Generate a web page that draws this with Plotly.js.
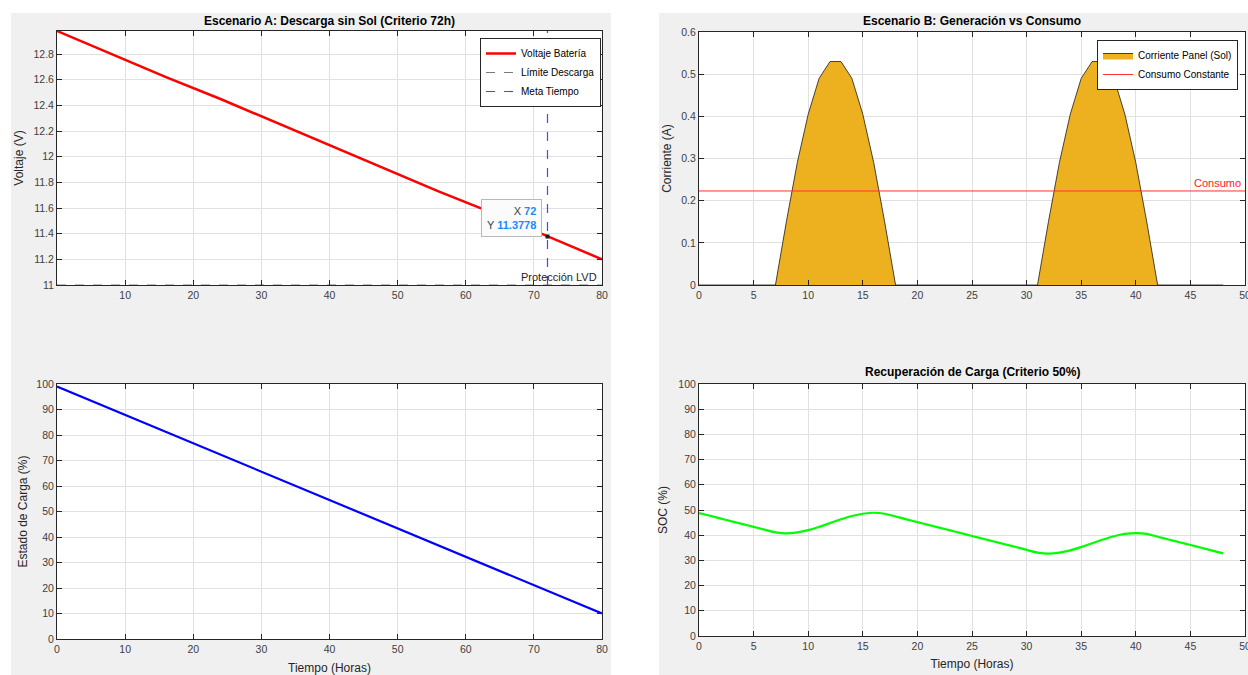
<!DOCTYPE html>
<html><head><meta charset="utf-8">
<script src="https://cdn.plot.ly/plotly-3.0.1.min.js"></script>
<style>html,body{margin:0;padding:0;background:#fff}#chart{width:1248px;height:675px}</style>
</head><body><div id="chart"></div>
<script>
// ---- Scenario A: discharge without sun ----
const dischargeTime = [0, 8, 16, 24, 32, 40, 48, 56, 64, 72, 80];
const batteryVoltage = [12.98, 12.80, 12.62, 12.45, 12.27, 12.09, 11.91, 11.73, 11.56, 11.3778, 11.20];
const dischargeSOC = [99, 90.1, 81.2, 72.3, 63.4, 54.5, 45.6, 36.7, 27.8, 18.9, 10.0];
const limitVoltage = 11.0;
const goalTime = 72;

// ---- Scenario B: generation vs consumption ----
const hours = [0,1,2,3,4,5,6,7,8,9,10,11,12,13,14,15,16,17,18,19,20,21,22,23,24,
               25,26,27,28,29,30,31,32,33,34,35,36,37,38,39,40,41,42,43,44,45,46,47,48];
const panelCurrent = [0,0,0,0,0,0,0,0,0.15,0.29,0.405,0.49,0.53,0.53,0.49,0.405,0.29,0.15,0,0,0,0,0,0,0,
                      0,0,0,0,0,0,0,0.15,0.29,0.405,0.49,0.53,0.53,0.49,0.405,0.29,0.15,0,0,0,0,0,0,0];
const consumptionTime = [0, 50];
const consumptionCurrent = [0.223, 0.223];
const recoverySOC = [48.8,47.7,46.6,45.5,44.4,43.3,42.2,41.1,40.7,41.1,42.0,43.3,44.8,46.3,47.6,48.5,48.9,48.5,47.4,46.3,45.2,44.1,43.0,41.9,40.8,
                     39.7,38.6,37.5,36.4,35.3,34.2,33.1,32.7,33.1,34.0,35.3,36.8,38.3,39.6,40.5,40.8,40.5,39.4,38.3,37.2,36.1,35.0,33.9,32.8];

const W = 1248, H = 675;
const px = v => v / W;
const py = v => 1 - v / H;
const FONT = 'Liberation Sans, Arial, Helvetica, sans-serif';
const AXC = '#262626';

function axis(domain, range, opts) {
  return Object.assign({
    domain: domain, range: range, autorange: false,
    showline: true, linecolor: AXC, linewidth: 1, mirror: 'ticks',
    ticks: 'inside', ticklen: 5, tickcolor: AXC, tickwidth: 1,
    showgrid: true, gridcolor: '#e1e1e1', gridwidth: 1, zeroline: false,
    tickfont: {family: FONT, size: 10.5, color: '#404040'},
    ticklabeloverflow: 'allow',
    fixedrange: true
  }, opts || {});
}

const tipIdx = dischargeTime.indexOf(goalTime);
const blue = '#1a8cff';

const traces = [
  {x: dischargeTime, y: batteryVoltage, xaxis: 'x', yaxis: 'y', type: 'scatter', mode: 'lines',
   name: 'Voltaje Batería', line: {color: '#ff0000', width: 2.5}, legend: 'legend'},
  {x: [0, 80], y: [limitVoltage, limitVoltage], xaxis: 'x', yaxis: 'y', type: 'scatter', mode: 'lines',
   name: 'Límite Descarga', line: {color: '#7a7a7a', width: 1, dash: 'dash'}, legend: 'legend'},
  {x: [goalTime, goalTime], y: [limitVoltage, 12.98], xaxis: 'x', yaxis: 'y', type: 'scatter', mode: 'lines',
   name: 'Meta Tiempo', line: {color: 'rgb(70,70,255)', width: 1.2, dash: 'dash'}, legend: 'legend'},
  {x: [dischargeTime[tipIdx]], y: [batteryVoltage[tipIdx]], xaxis: 'x', yaxis: 'y', type: 'scatter', mode: 'markers',
   showlegend: false, marker: {color: '#1a1a1a', size: 4, symbol: 'square'}},

  {x: hours, y: panelCurrent, xaxis: 'x2', yaxis: 'y2', type: 'scatter', mode: 'lines', fill: 'tozeroy',
   fillcolor: '#EDB120', name: 'Corriente Panel (Sol)', line: {color: '#1a1a1a', width: 0.8}, legend: 'legend2'},
  {x: consumptionTime, y: consumptionCurrent, xaxis: 'x2', yaxis: 'y2', type: 'scatter', mode: 'lines',
   name: 'Consumo Constante', line: {color: '#ff3030', width: 1}, legend: 'legend2'},

  {x: dischargeTime, y: dischargeSOC, xaxis: 'x3', yaxis: 'y3', type: 'scatter', mode: 'lines',
   showlegend: false, line: {color: '#0000ff', width: 2.2}},

  {x: hours, y: recoverySOC, xaxis: 'x4', yaxis: 'y4', type: 'scatter', mode: 'lines',
   showlegend: false, line: {color: '#00ff00', width: 2.2, shape: 'spline', smoothing: 1}}
];

const titleFont = {family: FONT, size: 12, color: '#000'};
const axTitleFont = {family: FONT, size: 12, color: '#262626'};

const layout = {
  width: W, height: H,
  margin: {l: 0, r: 0, t: 0, b: 0, pad: 0},
  paper_bgcolor: '#f0f0f0', plot_bgcolor: '#ffffff',
  hovermode: false, showlegend: true,
  font: {family: FONT, size: 10.5, color: '#262626'},
  xaxis: axis([px(57), px(602)], [0, 80], {anchor: 'y', tickvals: [10,20,30,40,50,60,70,80]}),
  yaxis: axis([py(285), py(31)], [11, 12.98], {anchor: 'x', tickvals: [11,11.2,11.4,11.6,11.8,12,12.2,12.4,12.6,12.8],
          title: {text: 'Voltaje (V)', font: axTitleFont, standoff: 7}}),
  xaxis2: axis([px(699), px(1245)], [0, 50], {anchor: 'y2', dtick: 5, tick0: 0}),
  yaxis2: axis([py(285), py(32)], [0, 0.6], {anchor: 'x2', dtick: 0.1, tick0: 0,
          title: {text: 'Corriente (A)', font: axTitleFont, standoff: 7}}),
  xaxis3: axis([px(57), px(602)], [0, 80], {anchor: 'y3', dtick: 10, tick0: 0,
          title: {text: 'Tiempo (Horas)', font: axTitleFont, standoff: 10}}),
  yaxis3: axis([py(639), py(384)], [0, 100], {anchor: 'x3', dtick: 10, tick0: 0,
          title: {text: 'Estado de Carga (%)', font: axTitleFont, standoff: 6}}),
  xaxis4: axis([px(699), px(1245)], [0, 50], {anchor: 'y4', dtick: 5, tick0: 0,
          title: {text: 'Tiempo (Horas)', font: axTitleFont, standoff: 9}}),
  yaxis4: axis([py(636), py(384)], [0, 100], {anchor: 'x4', dtick: 10, tick0: 0,
          title: {text: 'SOC (%)', font: axTitleFont, standoff: 8}}),
  legend: {x: px(601), y: py(38), xanchor: 'right', yanchor: 'top', bgcolor: '#ffffff',
           bordercolor: AXC, borderwidth: 1, font: {family: FONT, size: 10, color: '#000'},
           tracegroupgap: 0, itemwidth: 30},
  legend2: {x: px(1238), y: py(40), xanchor: 'right', yanchor: 'top', bgcolor: '#ffffff',
           bordercolor: AXC, borderwidth: 1, font: {family: FONT, size: 10, color: '#000'},
           tracegroupgap: 0, itemwidth: 30},
  shapes: [
    {type: 'rect', xref: 'paper', yref: 'paper', x0: 0, x1: 1, y0: py(13), y1: 1,
     fillcolor: '#ffffff', line: {width: 0}, layer: 'below'},
    {type: 'rect', xref: 'paper', yref: 'paper', x0: 0, x1: px(11), y0: 0, y1: 1,
     fillcolor: '#ffffff', line: {width: 0}, layer: 'below'},
    {type: 'rect', xref: 'paper', yref: 'paper', x0: px(611), x1: px(659), y0: 0, y1: 1,
     fillcolor: '#ffffff', line: {width: 0}, layer: 'below'}
  ],
  annotations: [
    {xref: 'paper', yref: 'paper', x: px(329.5), y: py(21), text: '<b>Escenario A: Descarga sin Sol (Criterio 72h)</b>',
     showarrow: false, font: titleFont, xanchor: 'center', yanchor: 'middle'},
    {xref: 'paper', yref: 'paper', x: px(972), y: py(21), text: '<b>Escenario B: Generación vs Consumo</b>',
     showarrow: false, font: titleFont, xanchor: 'center', yanchor: 'middle'},
    {xref: 'paper', yref: 'paper', x: px(972), y: py(372), text: '<b>Recuperación de Carga (Criterio 50%)</b>',
     showarrow: false, font: titleFont, xanchor: 'center', yanchor: 'middle'},
    {xref: 'x', yref: 'y', x: 80, y: limitVoltage, text: 'Protección LVD', showarrow: false,
     xanchor: 'right', yanchor: 'bottom', xshift: -3, yshift: 0, font: {family: FONT, size: 11, color: '#262626'}},
    {xref: 'x', yref: 'y', x: dischargeTime[tipIdx], y: batteryVoltage[tipIdx],
     text: 'X <b><span style="color:' + blue + '">' + dischargeTime[tipIdx] + '</span></b><br>Y <b><span style="color:' + blue + '">' + batteryVoltage[tipIdx] + '</span></b>',
     showarrow: false, xanchor: 'right', yanchor: 'bottom', xshift: -6, yshift: 0, align: 'right',
     bgcolor: '#fbfbfb', bordercolor: '#b8b8b8', borderwidth: 1, borderpad: 5,
     font: {family: FONT, size: 11, color: '#404040'}},
    {xref: 'x2', yref: 'y2', x: 50, y: consumptionCurrent[0], text: 'Consumo', showarrow: false,
     xanchor: 'right', yanchor: 'bottom', xshift: -2, yshift: 0, font: {family: FONT, size: 11, color: '#ff2020'}}
  ]
};

Plotly.newPlot('chart', traces, layout, {displayModeBar: false, staticPlot: true});
</script></body></html>
